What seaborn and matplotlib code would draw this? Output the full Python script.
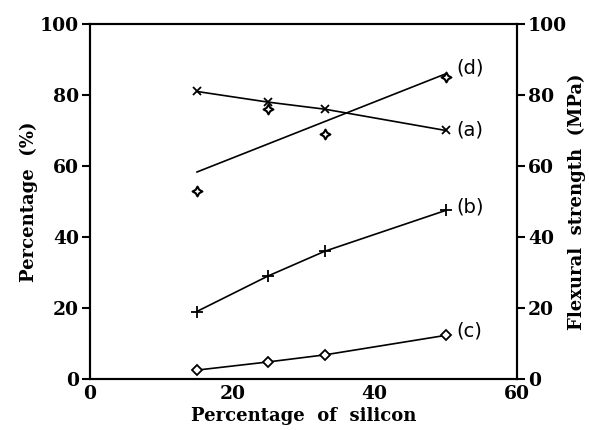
import numpy as np
import pandas as pd
import matplotlib
matplotlib.use("Agg")
import matplotlib.pyplot as plt
import seaborn as sns

silicon = [15, 25, 33, 50]
series_a = [81, 78, 76, 70]
series_b = [19, 29, 36, 47.5]
series_c = [2.5, 4.8, 6.8, 12.3]
flexural_d = [53, 76, 69, 85]
x_ticks = [0, 20, 40, 60]
y_ticks = [0, 20, 40, 60, 80, 100]

sns.set_style("white")
plt.rcParams['font.family'] = ['DejaVu Serif']
plt.rcParams['text.color'] = 'black'
plt.rcParams['axes.labelcolor'] = 'black'
plt.rcParams['xtick.color'] = 'black'
plt.rcParams['ytick.color'] = 'black'

fig = plt.figure(figsize=(5.89, 4.30), dpi=100)
ax = fig.add_axes([0.1528, 0.1186, 0.7250, 0.8256])
ax2 = ax.twinx()

df = pd.DataFrame({"x": silicon * 3,
                   "y": series_a + series_b + series_c,
                   "s": ["a"] * 4 + ["b"] * 4 + ["c"] * 4})
for key, mk, ms in [("a", "x", 6), ("b", "+", 8), ("c", "D", 5)]:
    sub = df[df.s == key]
    sns.lineplot(data=sub, x="x", y="y", ax=ax, color="black", lw=1.2,
                 marker=mk, markersize=ms, markerfacecolor="white",
                 markeredgecolor="black", markeredgewidth=1.3, legend=False)

dfd = pd.DataFrame({"x": silicon, "y": flexural_d})
sns.regplot(data=dfd, x="x", y="y", ax=ax2, ci=None, truncate=True,
            color="black",
            marker=(4, 1, 0),
            scatter_kws={"s": 50, "facecolors": "white", "edgecolors": "black",
                         "linewidths": 1.5, "alpha": 1},
            line_kws={"lw": 1.2})

for a in (ax, ax2):
    a.set_xlim(0, 60)
    a.set_ylim(0, 100)
    for sp in a.spines.values():
        sp.set_linewidth(1.5)
        sp.set_color("black")

tickfont = {"family": "DejaVu Serif", "weight": "bold", "size": 13.5}
ax.set_xticks(x_ticks)
ax.set_xticklabels([str(v) for v in x_ticks], fontdict=tickfont)
ax.set_yticks(y_ticks)
ax.set_yticklabels([str(v) for v in y_ticks], fontdict=tickfont)
ax2.set_yticks(y_ticks)
ax2.set_yticklabels([str(v) for v in y_ticks], fontdict=tickfont)
ax.tick_params(axis="y", direction="out", length=6, width=1.5, left=True, pad=2)
ax.tick_params(axis="x", length=0, pad=4)
ax2.tick_params(axis="y", direction="out", length=6, width=1.5, right=True, pad=2)

labfont = {"family": "DejaVu Serif", "weight": "bold", "size": 13}
ax.set_xlabel("Percentage  of  silicon", fontdict=labfont, labelpad=3)
ax.set_ylabel("Percentage  (%)", fontdict=labfont, labelpad=1)
ax2.set_ylabel("Flexural  strength  (MPa)", fontdict=labfont, labelpad=0)

annf = dict(family="DejaVu Sans", size=14, va="center", ha="left", color="black")
ax.text(51.5, 70, "(a)", **annf)
ax.text(51.5, 48.5, "(b)", **annf)
ax.text(51.5, 13.5, "(c)", **annf)
ax.text(51.5, 87.5, "(d)", **annf)

fig.savefig("out.png", dpi=100)
